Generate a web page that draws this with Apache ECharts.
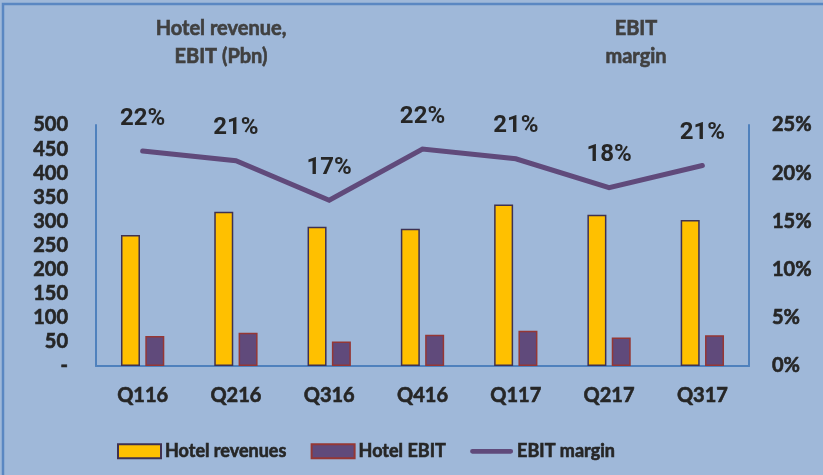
<!DOCTYPE html>
<html>
<head>
<meta charset="utf-8">
<style>
  html, body { margin: 0; padding: 0; background: #9fb8d9; }
  #chart { width: 823px; height: 475px; }
</style>
<script src="https://cdn.jsdelivr.net/npm/echarts@6/dist/echarts.min.js"></script>
</head>
<body>
<div id="chart"></div>
<script>
// 数据
const quarters = ['Q116', 'Q216', 'Q316', 'Q416', 'Q117', 'Q217', 'Q317'];
const hotelRevenues = [272, 320, 289, 285, 335, 314, 303];
const hotelEbit = [62, 69, 51, 65, 73, 59, 64];
const ebitMargin = [22.3, 21.3, 17.2, 22.5, 21.5, 18.5, 20.8];
const marginLabels = ['22%', '21%', '17%', '22%', '21%', '18%', '21%'];

const axisColor = '#4f81bd';
const textColor = '#262626';
const font = 'Lato';

// 文字加粗（描边）
function txt(size, extra) {
    return Object.assign({
        fontFamily: font, fontWeight: 'bold', fontSize: size, color: textColor,
        textBorderColor: textColor, textBorderWidth: 0.6
    }, extra);
}

const chart = echarts.init(document.getElementById('chart'));

chart.setOption({
    backgroundColor: '#9fb8d9',
    animation: false,
    graphic: [
        // 外框
        { type: 'rect', shape: { x: 3, y: 4, width: 900, height: 600 },
          style: { fill: 'none', stroke: '#5a87c2', lineWidth: 2.5 } },
        { type: 'text', x: 221, y: 15,
          style: { text: 'Hotel revenue,\nEBIT (Pbn)', align: 'center', lineHeight: 28,
                   font: 'bold 20px "Lato"', fill: '#404040', stroke: '#404040', lineWidth: 0.6 } },
        { type: 'text', x: 636, y: 15,
          style: { text: 'EBIT\nmargin', align: 'center', lineHeight: 28,
                   font: 'bold 20px "Lato"', fill: '#404040', stroke: '#404040', lineWidth: 0.6 } }
    ],
    grid: { left: 96, right: 74, top: 125, bottom: 109 },
    legend: {
        left: 112, top: 437,
        itemWidth: 43, itemHeight: 14, itemGap: 24,
        textStyle: txt(18, { padding: [0, 0, 0, -1] }),
        data: [
            { name: 'Hotel revenues', icon: 'rect' },
            { name: 'Hotel EBIT', icon: 'rect' },
            { name: 'EBIT margin', icon: 'path://M2.5,0 L43.5,0 A2.5,2.5 0 0 1 43.5,5 L2.5,5 A2.5,2.5 0 0 1 2.5,0 Z' }
        ]
    },
    xAxis: {
        type: 'category',
        data: quarters,
        axisLine: { lineStyle: { color: axisColor, width: 2 } },
        axisTick: { show: false },
        axisLabel: txt(20, { margin: 20 })
    },
    yAxis: [
        {
            type: 'value', min: 0, max: 500, interval: 50,
            axisLine: { show: true, lineStyle: { color: axisColor, width: 2 } },
            axisTick: { show: false },
            splitLine: { show: false },
            axisLabel: txt(20, { margin: 28, formatter: v => v === 0 ? '-' : v })
        },
        {
            type: 'value', min: 0, max: 25, interval: 5,
            axisLine: { show: true, lineStyle: { color: axisColor, width: 2 } },
            axisTick: { show: false },
            splitLine: { show: false },
            axisLabel: txt(20, { margin: 23, formatter: v => v + '%' })
        }
    ],
    series: [
        {
            name: 'Hotel revenues', type: 'bar', data: hotelRevenues,
            barWidth: 19, barGap: '28%',
            itemStyle: { color: '#ffc000', borderColor: '#3f3151', borderWidth: 1.5 }
        },
        {
            name: 'Hotel EBIT', type: 'bar', data: hotelEbit,
            barWidth: 19,
            itemStyle: { color: '#604a7b', borderColor: '#953735', borderWidth: 1.5 }
        },
        {
            name: 'EBIT margin', type: 'line', yAxisIndex: 1, data: ebitMargin,
            symbol: 'circle', symbolSize: 1, showSymbol: true,
            lineStyle: { color: '#604a7b', width: 5, cap: 'round', join: 'miter' },
            itemStyle: { color: '#604a7b' },
            label: {
                show: true, position: 'top', distance: 20,
                fontFamily: 'Roboto', fontWeight: 'bold', fontSize: 24, color: textColor,
                formatter: p => marginLabels[p.dataIndex]
            }
        }
    ]
});
</script>
</body>
</html>
